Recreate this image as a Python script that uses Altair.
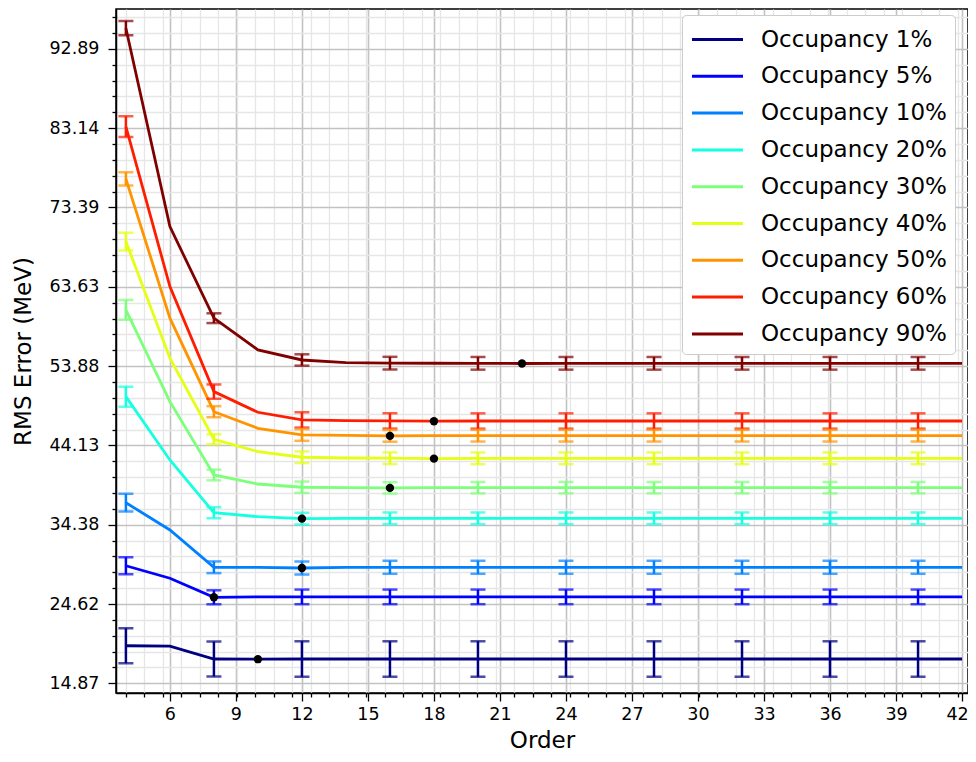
import json
import altair as alt
import pandas as pd

# ---------------- data ----------------
orders = [4, 6, 8, 10, 12, 14, 16, 18, 20, 22, 24, 26, 28, 30, 32, 34, 36, 38, 40, 42]
labels = ["Occupancy 1%", "Occupancy 5%", "Occupancy 10%", "Occupancy 20%", "Occupancy 30%",
          "Occupancy 40%", "Occupancy 50%", "Occupancy 60%", "Occupancy 90%"]
colors = ["#000080", "#0000ff", "#0080ff", "#15ffe1", "#7cff7a", "#e4ff13", "#ff9400", "#ff1d00", "#800000"]

rms_1 = [19.49, 19.45, 17.86, 17.84, 17.86, 17.86, 17.86, 17.86, 17.86, 17.86,
         17.86, 17.86, 17.86, 17.86, 17.86, 17.86, 17.86, 17.86, 17.86, 17.86]
rms_5 = [29.33, 27.79, 25.45, 25.50, 25.50, 25.50, 25.50, 25.50, 25.50, 25.50,
         25.50, 25.50, 25.50, 25.50, 25.50, 25.50, 25.50, 25.50, 25.50, 25.50]
rms_10 = [37.08, 33.73, 29.14, 29.12, 29.05, 29.14, 29.14, 29.14, 29.14, 29.14,
          29.14, 29.14, 29.14, 29.14, 29.14, 29.14, 29.14, 29.14, 29.14, 29.14]
rms_20 = [50.12, 42.34, 35.85, 35.36, 35.12, 35.16, 35.16, 35.16, 35.16, 35.16,
          35.16, 35.16, 35.16, 35.16, 35.16, 35.16, 35.16, 35.16, 35.16, 35.16]
rms_30 = [60.79, 49.51, 40.49, 39.38, 38.98, 38.94, 38.90, 38.93, 38.93, 38.93,
          38.93, 38.93, 38.93, 38.93, 38.93, 38.93, 38.93, 38.93, 38.93, 38.93]
rms_40 = [69.19, 54.84, 44.88, 43.36, 42.67, 42.58, 42.55, 42.50, 42.54, 42.54,
          42.54, 42.54, 42.54, 42.54, 42.54, 42.54, 42.54, 42.54, 42.54, 42.54]
rms_50 = [76.90, 59.77, 48.27, 46.23, 45.41, 45.35, 45.30, 45.32, 45.32, 45.32,
          45.32, 45.32, 45.32, 45.32, 45.32, 45.32, 45.32, 45.32, 45.32, 45.32]
rms_60 = [83.33, 63.65, 50.74, 48.20, 47.26, 47.18, 47.14, 47.10, 47.13, 47.13,
          47.13, 47.13, 47.13, 47.13, 47.13, 47.13, 47.13, 47.13, 47.13, 47.13]
rms_90 = [95.43, 71.03, 59.77, 55.87, 54.63, 54.30, 54.24, 54.23, 54.22, 54.20,
          54.22, 54.22, 54.22, 54.22, 54.22, 54.22, 54.22, 54.22, 54.22, 54.22]

err_orders = [4, 8, 12, 16, 20, 24, 28, 32, 36, 40]
err_1 = [2.15, 2.15, 2.18, 2.18, 2.18, 2.18, 2.18, 2.18, 2.18, 2.18]
err_5 = [1.05, 0.86, 0.90, 0.90, 0.90, 0.90, 0.90, 0.90, 0.90, 0.90]
err_10 = [1.09, 0.72, 0.80, 0.80, 0.80, 0.80, 0.80, 0.80, 0.80, 0.80]
err_20 = [1.23, 0.68, 0.72, 0.72, 0.72, 0.72, 0.72, 0.72, 0.72, 0.72]
err_30 = [1.21, 0.66, 0.70, 0.70, 0.70, 0.70, 0.70, 0.70, 0.70, 0.70]
err_40 = [1.09, 0.62, 0.72, 0.72, 0.72, 0.72, 0.72, 0.72, 0.72, 0.72]
err_50 = [0.82, 0.68, 0.72, 0.72, 0.72, 0.72, 0.72, 0.72, 0.72, 0.72]
err_60 = [1.27, 0.88, 0.94, 0.94, 0.94, 0.94, 0.94, 0.94, 0.94, 0.94]
err_90 = [0.88, 0.60, 0.70, 0.78, 0.78, 0.78, 0.78, 0.78, 0.78, 0.78]

best_orders = [10, 8, 12, 12, 16, 18, 16, 18, 22]

x_major = [6, 9, 12, 15, 18, 21, 24, 27, 30, 33, 36, 39, 42]
x_minor = [round(4 + 0.84 * k, 2) for k in range(46)]
y_major = [14.87, 24.62, 34.38, 44.13, 53.88, 63.63, 73.39, 83.14, 92.89]

# ---------------- tables ----------------
rms_all = [rms_1, rms_5, rms_10, rms_20, rms_30, rms_40, rms_50, rms_60, rms_90]
err_all = [err_1, err_5, err_10, err_20, err_30, err_40, err_50, err_60, err_90]

line_rows, err_rows, best_rows = [], [], []
for lab, vals, errs, best in zip(labels, rms_all, err_all, best_orders):
    for o, v in zip(orders, vals):
        line_rows.append({"series": lab, "order": o, "rms": v})
    for o, e in zip(err_orders, errs):
        v = vals[orders.index(o)]
        err_rows.append({"series": lab, "order": o, "lo": v - e, "hi": v + e})
    best_rows.append({"series": lab, "order": best, "rms": vals[orders.index(best)]})

df_line = pd.DataFrame(line_rows)
df_err = pd.DataFrame(err_rows)
df_best = pd.DataFrame(best_rows)

# minor y ticks: 5 subdivisions between labelled ticks
y_minor = []
for a, b in zip(y_major[:-1], y_major[1:]):
    for j in range(1, 5):
        y_minor.append(round(a + (b - a) * j / 5, 4))
step = (y_major[-1] - y_major[-2]) / 5
y_minor += [round(y_major[-1] + step, 4), round(y_major[-1] + 2 * step, 4)]

xtest = "indexof(%s, datum.value) >= 0" % json.dumps(x_major)
ytest = "indexof(%s, datum.value) >= 0" % json.dumps(y_major)

MAJ_GRID = "#c2c2c2"
MIN_GRID = "#e6e6e6"

xaxis = alt.Axis(
    values=sorted(x_minor + x_major),
    labelExpr=f"{xtest} ? format(datum.value, '.0f') : ''",
    tickSize={"condition": {"test": xtest, "value": 8}, "value": 4},
    gridColor={"condition": {"test": xtest, "value": MAJ_GRID}, "value": MIN_GRID},
    gridWidth={"condition": {"test": xtest, "value": 1.6}, "value": 1.3},
    labelOffset={"condition": {"test": "datum.value == 42", "value": -5}, "value": 0},
    labelOverlap=False, labelFlush=False, labelPadding=4, titlePadding=7,
)
yaxis = alt.Axis(
    values=sorted(y_minor + y_major),
    labelExpr=f"{ytest} ? format(datum.value, '.2f') : ''",
    tickSize={"condition": {"test": ytest, "value": 8}, "value": 4},
    gridColor={"condition": {"test": ytest, "value": MAJ_GRID}, "value": MIN_GRID},
    gridWidth={"condition": {"test": ytest, "value": 1.6}, "value": 1.3},
    labelOverlap=False, labelFlush=False, labelPadding=9, titlePadding=13,
)

xs = alt.Scale(domain=[3.55, 42.27], nice=False, zero=False)
ys = alt.Scale(domain=[13.68, 97.79], nice=False, zero=False)
cs = alt.Scale(domain=labels, range=colors)

X = alt.X("order:Q", scale=xs, axis=xaxis, title="Order")

legend = alt.Legend(
    title=None, orient="none", legendX=566, legendY=6,
    symbolType="M-1.7,0H1.7", symbolSize=900, symbolStrokeWidth=3,
    symbolOffset=11,
    labelFontSize=23, labelFont="DejaVu Sans", labelColor="black",
    labelOffset=27, labelLimit=0, rowPadding=7.8, padding=8,
    fillColor="white", strokeColor="#cccccc", cornerRadius=4,
)

lines = alt.Chart(df_line).mark_line(strokeWidth=2.8).encode(
    x=X,
    y=alt.Y("rms:Q", scale=ys, axis=yaxis, title="RMS Error (MeV)"),
    color=alt.Color("series:N", scale=cs, sort=labels, legend=legend),
)

bars = alt.Chart(df_err).mark_errorbar(
    ticks={"size": 15, "thickness": 2.5}, thickness=2.5
).encode(
    x=X,
    y=alt.Y("lo:Q", scale=ys, axis=yaxis, title="RMS Error (MeV)"),
    y2="hi:Q",
    color=alt.Color("series:N", scale=cs, sort=labels, legend=None),
)

dots = alt.Chart(df_best).mark_circle(size=70, color="black", opacity=1).encode(
    x=X,
    y=alt.Y("rms:Q", scale=ys, axis=yaxis, title="RMS Error (MeV)"),
)

chart = alt.layer(lines, bars, dots).properties(
    width=852, height=684,
    autosize=alt.AutoSizeParams(type="none"),
    padding={"left": 108, "top": 1, "right": 0, "bottom": 60},
).configure(
    font="DejaVu Sans",
).configure_view(
    stroke="black", strokeWidth=1.5,
).configure_axis(
    domainColor="black", domainWidth=1.5,
    tickColor="black", tickWidth=1.3,
    labelFont="DejaVu Sans", labelFontSize=17.5, labelColor="black",
    titleFont="DejaVu Sans", titleFontSize=23, titleFontWeight="normal", titleColor="black",
)

chart.save("out.html", embed_options={"renderer": "svg", "actions": False})
